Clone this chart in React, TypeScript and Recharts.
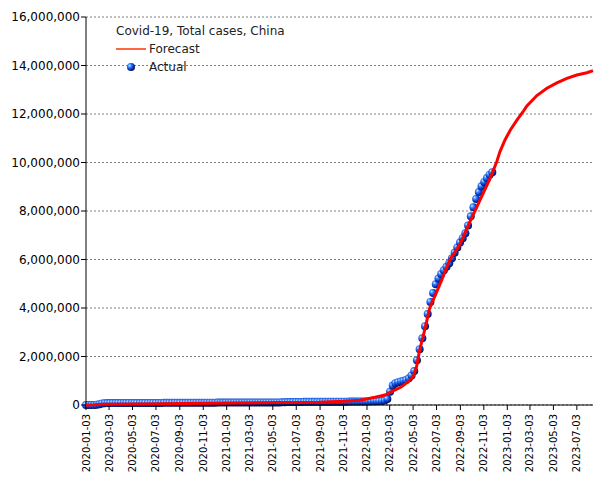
import React from "react";
import {
  ComposedChart,
  Line,
  Scatter,
  XAxis,
  YAxis,
  CartesianGrid,
  Legend,
} from "recharts";

const FONT = '"DejaVu Sans", Verdana, sans-serif';

// Actual totals, one point a week from 2020-01-03, in thousands
const actualStart = "2020-01-03";
const actual2020 = [
  0, 0.04, 0.06, 0.9, 11, 31, 64, 76, 79, 80.7,
  81, 81.5, 82.3, 83, 83.6, 84.3, 84.4, 84.5, 84.6, 84.7,
  84.8, 85, 85.2, 85.4, 85.6, 85.8, 86.2, 86.8, 87.5, 88.5,
  89.5, 90.3, 90.8, 91.1, 91.4, 91.7, 92, 92.3, 92.6, 92.9,
  93.2, 93.5, 93.8, 94.1, 94.6, 95.2, 95.9, 96.6, 97.3, 98,
  98.6, 99.2,
];
const actual2021 = [
  99.8, 100.5, 101.2, 101.8, 102.3, 102.7, 103, 103.3, 103.6, 103.9,
  104.2, 104.5, 104.8, 105.1, 105.4, 105.7, 106, 106.4, 106.8, 107.3,
  108, 110, 114, 119, 123, 125.5, 127, 128, 128.8, 129.4,
  130, 130.5, 131, 131.5, 132, 132.5, 133, 133.5, 134, 134.5,
  135, 135.6, 136.2, 137, 138, 139, 140, 141, 142, 143,
  144, 145.5,
];
const actual2022 = [
  147, 149, 152, 155, 158, 162, 170, 190, 250, 550,
  800, 900, 940, 970, 1000, 1030, 1100, 1220, 1400, 1850,
  2300, 2750, 3250, 3750, 4250, 4620, 4980, 5220, 5400, 5560,
  5700, 5850, 6050, 6280, 6500, 6700, 6880, 7080, 7400, 7780,
  8150, 8500, 8780, 9020, 9200, 9360, 9500, 9600,
];

const forecastDates = [
  "2020-01-03", "2020-01-24", "2020-02-14", "2020-05-22", "2020-09-15",
  "2021-01-15", "2021-05-15", "2021-09-01", "2021-11-02", "2021-12-16",
  "2022-01-11", "2022-01-24", "2022-02-19", "2022-03-08", "2022-04-03",
  "2022-04-20", "2022-05-03", "2022-05-12", "2022-05-20", "2022-05-29",
  "2022-06-07", "2022-06-15", "2022-06-28", "2022-07-15", "2022-08-06",
  "2022-09-01", "2022-09-28", "2022-10-24", "2022-11-19", "2022-12-07",
  "2022-12-15", "2022-12-28", "2023-01-11", "2023-01-28", "2023-02-14",
  "2023-02-23", "2023-03-21", "2023-04-16", "2023-05-12", "2023-06-07",
  "2023-07-03", "2023-07-29", "2023-08-14",
];
const forecastValues = [
  0, 10000, 30000, 40000, 60000, 80000, 100000, 110000, 150000, 200000,
  280000, 320000, 410000, 550000, 750000, 960000, 1170000, 1580000, 2270000, 2820000,
  3430000, 3990000, 4470000, 5100000, 5980000, 6600000, 7560000, 8450000, 9330000, 10050000,
  10450000, 10930000, 11340000, 11750000, 12120000, 12330000, 12760000, 13060000, 13280000, 13470000,
  13610000, 13700000, 13790000,
];

const xTickLabels = [
  "2020-01-03", "2020-03-03", "2020-05-03", "2020-07-03", "2020-09-03", "2020-11-03",
  "2021-01-03", "2021-03-03", "2021-05-03", "2021-07-03", "2021-09-03", "2021-11-03",
  "2022-01-03", "2022-03-03", "2022-05-03", "2022-07-03", "2022-09-03", "2022-11-03",
  "2023-01-03", "2023-03-03", "2023-05-03", "2023-07-03",
];
const yTicks = [0, 2000000, 4000000, 6000000, 8000000, 10000000, 12000000, 14000000, 16000000];
const lastDay = "2023-08-13";

const DAY = 86400000;
const t0 = Date.parse(actualStart + "T00:00:00Z");
const dayOf = (s: string) => Math.round((Date.parse(s + "T00:00:00Z") - t0) / DAY);
const labelOf = (d: number) => new Date(t0 + d * DAY).toISOString().slice(0, 10);

const actualData = [...actual2020, ...actual2021, ...actual2022].map((v, i) => ({
  day: i * 7,
  value: v * 1000,
}));
const forecastData = forecastDates.map((d, i) => ({ day: dayOf(d), value: forecastValues[i] }));
const xTicks = xTickLabels.map(dayOf);

const Ball = (props: any) => {
  const { cx, cy } = props;
  if (cx == null || cy == null) return null;
  return <circle cx={cx} cy={cy} r={4} fill="url(#ballGrad)" />;
};

const XTick = (props: any) => {
  const { x, y, payload } = props;
  const ty = y + 2;
  return (
    <text
      x={x}
      y={ty}
      transform={`rotate(-90, ${x}, ${ty})`}
      textAnchor="end"
      dy="0.35em"
      fontSize={10}
      fontFamily={FONT}
      fill="#000"
    >
      {labelOf(payload.value)}
    </text>
  );
};

const BallGradient = ({ id }: { id: string }) => (
  <radialGradient id={id} cx="0.4" cy="0.4" r="0.65" fx="0.3" fy="0.3">
    <stop offset="0%" stopColor="#d8eeff" />
    <stop offset="30%" stopColor="#3c8cff" />
    <stop offset="65%" stopColor="#0a3ccc" />
    <stop offset="100%" stopColor="#000848" />
  </radialGradient>
);

const LegendBox = () => (
  <div style={{ fontFamily: FONT, fontSize: 12, color: "#222", lineHeight: "18px" }}>
    <div>Covid-19, Total cases, China</div>
    <div style={{ display: "flex", alignItems: "center" }}>
      <svg width={33} height={18}>
        <line x1={0} y1={9} x2={30} y2={9} stroke="#ff3300" strokeWidth={1.5} />
      </svg>
      <span>Forecast</span>
    </div>
    <div style={{ display: "flex", alignItems: "center" }}>
      <svg width={33} height={18}>
        <defs>
          <BallGradient id="ballLegend" />
        </defs>
        <circle cx={15} cy={9} r={4} fill="url(#ballLegend)" />
      </svg>
      <span>Actual</span>
    </div>
  </div>
);

const App: React.FC = () => {
  return (
    <div style={{ position: "absolute", left: 0, top: 0, background: "#fff" }}>
      <ComposedChart width={605} height={480} margin={{ top: 17, right: 12, bottom: 0, left: 0 }}>
        <defs>
          <BallGradient id="ballGrad" />
        </defs>
        <CartesianGrid vertical={false} stroke="#808080" strokeDasharray="2 2" />
        <XAxis
          type="number"
          dataKey="day"
          domain={[0, dayOf(lastDay)]}
          ticks={xTicks}
          tick={<XTick />}
          tickSize={5}
          height={75}
          stroke="#000"
          interval={0}
        />
        <YAxis
          type="number"
          dataKey="value"
          domain={[0, 16000000]}
          ticks={yTicks}
          tickFormatter={(v: number) => v.toLocaleString("en-US")}
          tickSize={5}
          tickMargin={1}
          width={86}
          stroke="#000"
          tick={{ fill: "#000", fontSize: 12, fontFamily: FONT }}
          interval={0}
        />
        <Scatter
          data={actualData}
          dataKey="value"
          shape={<Ball />}
          isAnimationActive={false}
          zIndex={300}
        />
        <Line
          data={forecastData}
          dataKey="value"
          type="linear"
          stroke="#ff0000"
          strokeWidth={3}
          dot={false}
          activeDot={false}
          isAnimationActive={false}
          zIndex={700}
        />
        <Legend
          layout="vertical"
          align="center"
          verticalAlign="middle"
          content={<LegendBox />}
          wrapperStyle={{ top: 22, left: 116, width: "auto" }}
        />
      </ComposedChart>
    </div>
  );
};

export default App;
